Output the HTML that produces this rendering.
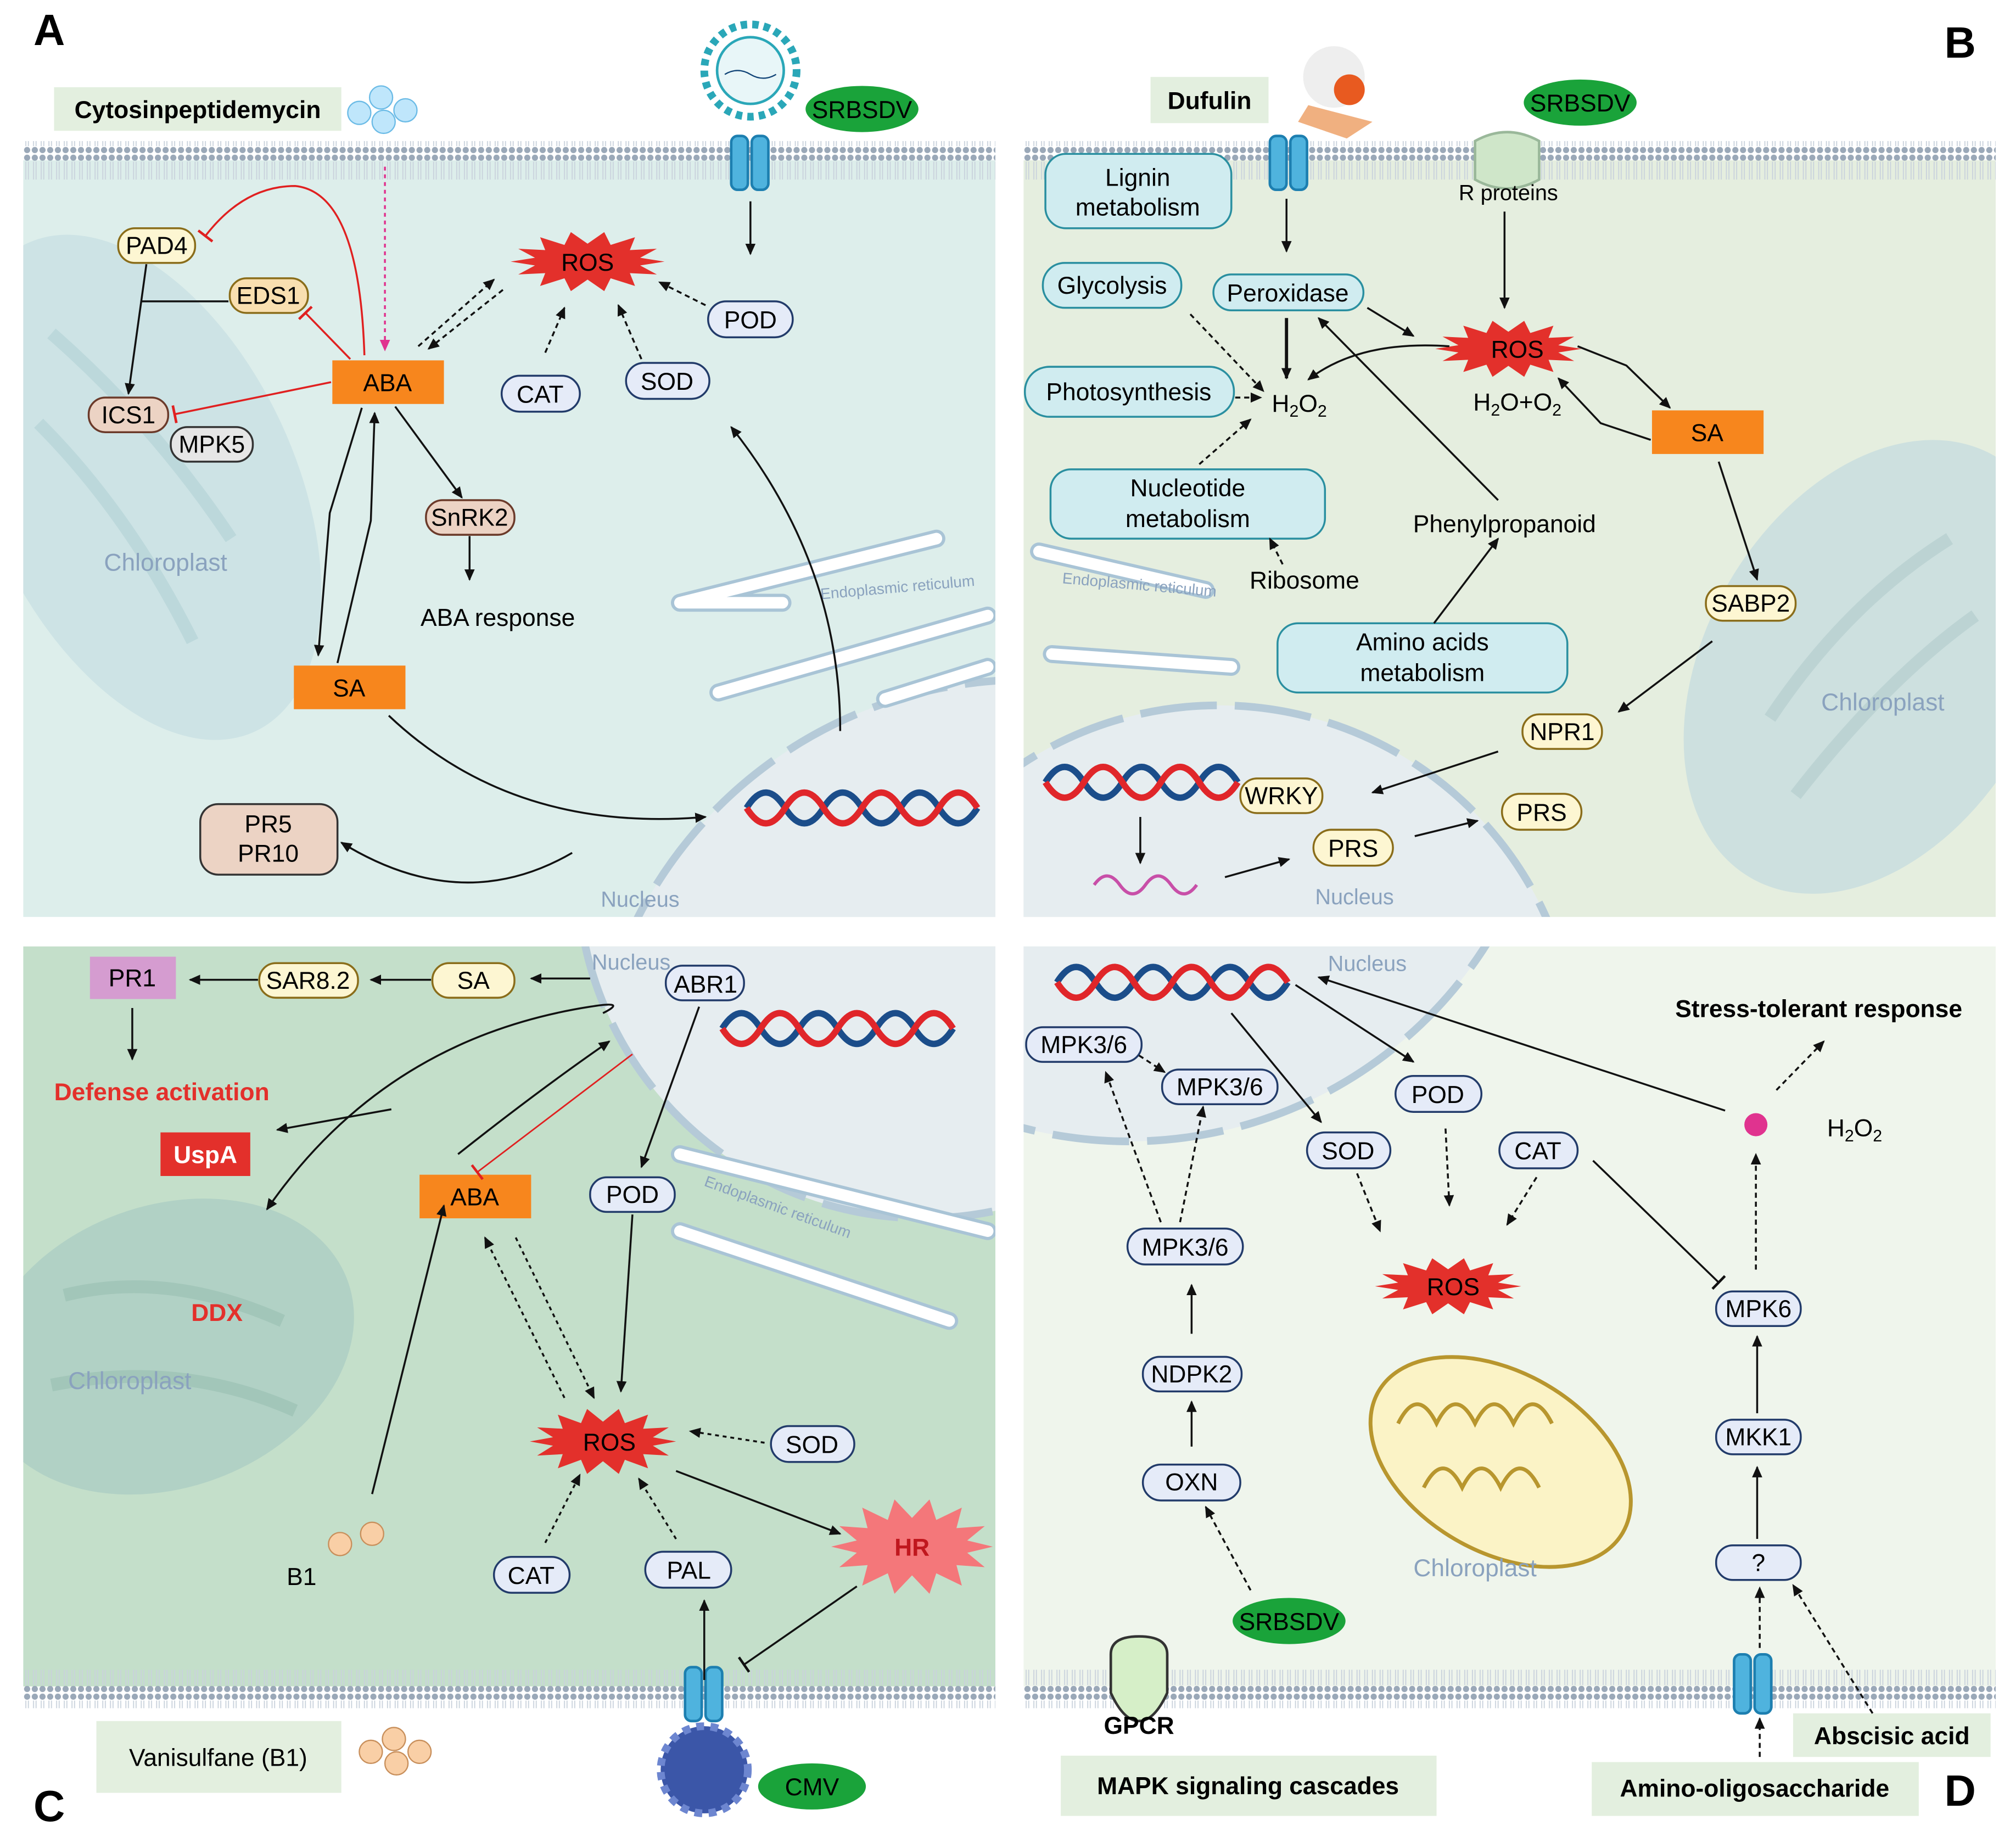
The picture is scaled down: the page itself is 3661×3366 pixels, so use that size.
<!DOCTYPE html>
<html><head><meta charset="utf-8"><style>html,body{margin:0;padding:0;background:#fff}svg{display:block}text{font-family:"Liberation Sans",sans-serif}</style></head><body>
<svg width="3661" height="3366" viewBox="0 0 1567 1441" xmlns="http://www.w3.org/2000/svg">
<defs>
<marker id="a" markerWidth="10" markerHeight="10" refX="8" refY="4" orient="auto" markerUnits="userSpaceOnUse"><path d="M0,0 L9,4 L0,8 z" fill="#111"/></marker>
<marker id="am" markerWidth="10" markerHeight="10" refX="8" refY="4" orient="auto" markerUnits="userSpaceOnUse"><path d="M0,0 L9,4 L0,8 z" fill="#e0338f"/></marker>
<marker id="t" markerWidth="4" markerHeight="14" refX="2" refY="7" orient="auto" markerUnits="userSpaceOnUse"><path d="M2,0 L2,14" stroke="#e02020" stroke-width="2"/></marker>
<marker id="tk" markerWidth="4" markerHeight="14" refX="2" refY="7" orient="auto" markerUnits="userSpaceOnUse"><path d="M2,0 L2,14" stroke="#111" stroke-width="2"/></marker>
<pattern id="mem" width="6" height="30" patternUnits="userSpaceOnUse"><circle cx="3" cy="3" r="2.4" fill="#9aa8b8"/><circle cx="3" cy="27" r="2.4" fill="#9aa8b8"/><path d="M2,6 V24 M4,6 V24" stroke="#c9d2dc" stroke-width="0.8"/></pattern>
<path id="star" d="M60,0 L41,3 L54,10 L33,9 L37,19 L18,13 L13,23 L0,14 L-13,23 L-18,13 L-37,19 L-33,9 L-54,10 L-41,3 L-60,0 L-41,-3 L-54,-10 L-33,-9 L-37,-19 L-18,-13 L-13,-23 L0,-14 L13,-23 L18,-13 L37,-19 L33,-9 L54,-10 L41,-3 z"/>
<clipPath id="cA"><rect x="18" y="125" width="758" height="590"/></clipPath>
<clipPath id="cB"><rect x="798" y="125" width="758" height="590"/></clipPath>
<clipPath id="cC"><rect x="18" y="738" width="758" height="577"/></clipPath>
<clipPath id="cD"><rect x="798" y="738" width="758" height="577"/></clipPath>
</defs>
<rect width="1567" height="1441" fill="#fff"/>
<rect x="18" y="125" width="758" height="590" fill="#ddeeeb"/>
<rect x="798" y="125" width="758" height="590" fill="#e5eedf"/>
<rect x="18" y="738" width="758" height="577" fill="#c4dfca"/>
<rect x="798" y="738" width="758" height="577" fill="#eff5ec"/>
<circle cx="800" cy="870" r="340" fill="#e6edf0" clip-path="url(#cA)"/>
<circle cx="800" cy="870" r="340" fill="none" stroke="#b5cad8" stroke-width="6" stroke-dasharray="60 14" clip-path="url(#cA)"/>
<circle cx="950" cy="830" r="280" fill="#e6edf0" stroke="#b5cad8" stroke-width="6" stroke-dasharray="60 14" clip-path="url(#cB)"/>
<circle cx="720" cy="680" r="270" fill="#e6edf0" stroke="#b5cad8" stroke-width="6" stroke-dasharray="60 14" clip-path="url(#cC)"/>
<circle cx="880" cy="560" r="330" fill="#e6edf0" stroke="#b5cad8" stroke-width="6" stroke-dasharray="60 14" clip-path="url(#cD)"/>
<g clip-path="url(#cA)"><ellipse cx="110" cy="380" rx="120" ry="210" transform="rotate(-25 110 380)" fill="#cde3e5"/><path d="M40,260 Q120,330 180,420 M30,330 Q100,400 150,500" stroke="#bcd8db" stroke-width="10" fill="none"/></g>
<g clip-path="url(#cB)"><ellipse cx="1460" cy="520" rx="130" ry="190" transform="rotate(30 1460 520)" fill="#cde0df"/><path d="M1380,560 Q1440,470 1520,420 M1400,620 Q1470,530 1540,480" stroke="#bcd3d3" stroke-width="10" fill="none"/></g>
<g clip-path="url(#cC)"><ellipse cx="130" cy="1050" rx="150" ry="110" transform="rotate(-20 130 1050)" fill="#b1d1c5"/><path d="M50,1010 Q130,990 220,1030 M40,1080 Q140,1060 230,1100" stroke="#a2c6b9" stroke-width="10" fill="none"/></g>
<ellipse cx="1170" cy="1140" rx="110" ry="70" transform="rotate(30 1170 1140)" fill="#fbf3c6" stroke="#b8962e" stroke-width="3"/>
<path d="M1090,1110 q15,-30 30,0 q15,-30 30,0 q15,-30 30,0 q15,-30 30,0 M1110,1160 q15,-30 30,0 q15,-30 30,0 q15,-30 30,0" stroke="#b8962e" stroke-width="3" fill="none"/>
<g fill="none" stroke="#a9c4d6" stroke-width="14" stroke-linecap="round">
<path d="M530,470 L730,420 M530,470 L610,470 M560,540 L770,480 M690,545 L770,520" clip-path="url(#cA)"/>
<path d="M810,430 L940,460 M820,510 L960,520" clip-path="url(#cB)"/>
<path d="M530,960 L740,1030 M530,900 L770,960" clip-path="url(#cC)"/>
</g>
<g fill="none" stroke="#fff" stroke-width="9" stroke-linecap="round">
<path d="M530,470 L730,420 M530,470 L610,470 M560,540 L770,480 M690,545 L770,520" clip-path="url(#cA)"/>
<path d="M810,430 L940,460 M820,510 L960,520" clip-path="url(#cB)"/>
<path d="M530,960 L740,1030 M530,900 L770,960" clip-path="url(#cC)"/>
</g>
<rect x="18" y="110" width="758" height="30" fill="url(#mem)"/>
<rect x="798" y="110" width="758" height="30" fill="url(#mem)"/>
<rect x="18" y="1302" width="758" height="30" fill="url(#mem)"/>
<rect x="798" y="1302" width="758" height="30" fill="url(#mem)"/>
<g fill="#4fb3de" stroke="#1d7fb0" stroke-width="2">
<rect x="570" y="106" width="13" height="42" rx="5"/><rect x="586" y="106" width="13" height="42" rx="5"/>
<rect x="990" y="106" width="13" height="42" rx="5"/><rect x="1006" y="106" width="13" height="42" rx="5"/>
<rect x="534" y="1300" width="13" height="42" rx="5"/><rect x="550" y="1300" width="13" height="42" rx="5"/>
<rect x="1352" y="1290" width="13" height="46" rx="5"/><rect x="1368" y="1290" width="13" height="46" rx="5"/>
</g>
<path d="M1150,110 q25,-14 50,0 v30 q-25,14 -50,0 z" fill="#cfe6c9" stroke="#9ab89a" stroke-width="2"/>
<path d="M866,1320 v-30 q0,-14 22,-14 q22,0 22,14 v30 q-10,22 -22,22 q-12,0 -22,-22z" fill="#d6efc8" stroke="#333" stroke-width="2"/>
<circle cx="585" cy="55" r="36" fill="#fff" stroke="#2aa7b8" stroke-width="6" stroke-dasharray="5 4"/><circle cx="585" cy="55" r="26" fill="#e8f6f8" stroke="#2aa7b8" stroke-width="2"/><path d="M565,58 q10,-6 20,0 t20,0" stroke="#147" fill="none"/>
<circle cx="549" cy="1380" r="34" fill="#3b56a8"/><circle cx="549" cy="1380" r="34" fill="none" stroke="#6d86d0" stroke-width="6" stroke-dasharray="6 5"/>
<circle cx="1040" cy="60" r="24" fill="#eee"/><circle cx="1052" cy="70" r="12" fill="#e85a20"/><path d="M1020,82 L1070,95 L1050,108 L1012,95z" fill="#f0b080"/>
<g fill="#bfe6fb" stroke="#6bbbe6"><circle cx="280" cy="88" r="9"/><circle cx="297" cy="76" r="9"/><circle cx="299" cy="95" r="9"/><circle cx="316" cy="86" r="9"/></g>
<g fill="#f9cfa6" stroke="#c88f5b"><circle cx="289" cy="1366" r="9"/><circle cx="307" cy="1356" r="9"/><circle cx="309" cy="1375" r="9"/><circle cx="327" cy="1366" r="9"/><circle cx="265" cy="1204" r="9"/><circle cx="290" cy="1196" r="9"/></g>
<g fill="none" stroke-width="5">
<path d="M582,630 q15,-24 30,0 t30,0 t30,0 t30,0 t30,0 t30,0" stroke="#1b4d8a"/><path d="M582,630 q15,24 30,0 t30,0 t30,0 t30,0 t30,0 t30,0" stroke="#e0262a"/>
<path d="M815,610 q15,-24 30,0 t30,0 t30,0 t30,0 t30,0" stroke="#1b4d8a"/><path d="M815,610 q15,24 30,0 t30,0 t30,0 t30,0 t30,0" stroke="#e0262a"/>
<path d="M563,802 q15,-24 30,0 t30,0 t30,0 t30,0 t30,0 t30,0" stroke="#1b4d8a"/><path d="M563,802 q15,24 30,0 t30,0 t30,0 t30,0 t30,0 t30,0" stroke="#e0262a"/>
<path d="M824,766 q15,-24 30,0 t30,0 t30,0 t30,0 t30,0 t30,0" stroke="#1b4d8a"/><path d="M824,766 q15,24 30,0 t30,0 t30,0 t30,0 t30,0 t30,0" stroke="#e0262a"/>
<path d="M853,690 q10,-14 20,0 t20,0 t20,0 t20,0" stroke="#c84fa8" stroke-width="2.5"/>
</g>
<use href="#star" transform="translate(458,204)" fill="#e3302b"/>
<use href="#star" transform="translate(1176,272) scale(0.95)" fill="#e3302b"/>
<use href="#star" transform="translate(470,1124) scale(0.95,1.1)" fill="#e3302b"/>
<use href="#star" transform="translate(1129,1003) scale(0.95)" fill="#e3302b"/>
<use href="#star" transform="translate(711,1206) scale(1.05,1.6)" fill="#f4777a"/>
<g font-size="19">
<rect x="42" y="68" width="224" height="34" fill="#e3efdf"/><text x="154" y="92" text-anchor="middle" font-weight="bold">Cytosinpeptidemycin</text>
<rect x="897" y="60" width="92" height="36" fill="#e3efdf"/><text x="943" y="85" text-anchor="middle" font-weight="bold">Dufulin</text>
<rect x="75" y="1342" width="191" height="56" fill="#e3efdf"/><text x="170" y="1377" text-anchor="middle">Vanisulfane (B1)</text>
<rect x="827" y="1369" width="293" height="47" fill="#e3efdf"/><text x="973" y="1399" text-anchor="middle" font-weight="bold">MAPK signaling cascades</text>
<rect x="1398" y="1336" width="154" height="34" fill="#e3efdf"/><text x="1475" y="1360" text-anchor="middle" font-weight="bold">Abscisic acid</text>
<rect x="1241" y="1374" width="255" height="42" fill="#e3efdf"/><text x="1368" y="1401" text-anchor="middle" font-weight="bold">Amino-oligosaccharide</text>
<ellipse cx="672" cy="85" rx="44" ry="18" fill="#1aa33a"/><text x="672" y="92" text-anchor="middle">SRBSDV</text>
<ellipse cx="1232" cy="80" rx="44" ry="18" fill="#1aa33a"/><text x="1232" y="87" text-anchor="middle">SRBSDV</text>
<ellipse cx="1005" cy="1264" rx="44" ry="18" fill="#1aa33a"/><text x="1005" y="1271" text-anchor="middle">SRBSDV</text>
<ellipse cx="633" cy="1393" rx="42" ry="18" fill="#1aa33a"/><text x="633" y="1400" text-anchor="middle">CMV</text>
<g fill="#f7861d"><rect x="259" y="281" width="87" height="34"/><rect x="229" y="519" width="87" height="34"/><rect x="1288" y="320" width="87" height="34"/><rect x="327" y="916" width="87" height="34"/></g>
<text x="302" y="305" text-anchor="middle">ABA</text><text x="272" y="543" text-anchor="middle">SA</text><text x="1331" y="344" text-anchor="middle">SA</text><text x="370" y="940" text-anchor="middle">ABA</text>
<rect x="70" y="746" width="67" height="33" fill="#d59cd0"/><text x="103" y="769" text-anchor="middle">PR1</text>
<rect x="125" y="883" width="70" height="34" fill="#e3302b"/><text x="160" y="907" text-anchor="middle" fill="#fff" font-weight="bold">UspA</text>
<g stroke-width="1.5">
<rect x="92" y="178" width="60" height="27" rx="13" fill="#fdf6d2" stroke="#8a6d1a"/>
<rect x="179" y="217" width="61" height="27" rx="13" fill="#f9dfb0" stroke="#8a6d1a"/>
<rect x="69" y="310" width="62" height="27" rx="13" fill="#ecd3c4" stroke="#6b3a2a"/>
<rect x="133" y="333" width="64" height="27" rx="13" fill="#e6e6e6" stroke="#333"/>
<rect x="332" y="390" width="69" height="27" rx="13" fill="#ecd3c4" stroke="#6b3a2a"/>
<rect x="156" y="627" width="107" height="55" rx="14" fill="#ecd3c4" stroke="#333"/>
<rect x="391" y="293" width="61" height="28" rx="14" fill="#e5ebf8" stroke="#223b6a"/>
<rect x="488" y="283" width="65" height="28" rx="14" fill="#e5ebf8" stroke="#223b6a"/>
<rect x="552" y="235" width="66" height="28" rx="14" fill="#e5ebf8" stroke="#223b6a"/>
<rect x="815" y="120" width="145" height="58" rx="16" fill="#d0ecf0" stroke="#2a8fa0"/>
<rect x="813" y="205" width="108" height="35" rx="17" fill="#d0ecf0" stroke="#2a8fa0"/>
<rect x="946" y="214" width="117" height="28" rx="14" fill="#d0ecf0" stroke="#2a8fa0"/>
<rect x="799" y="286" width="163" height="39" rx="19" fill="#d0ecf0" stroke="#2a8fa0"/>
<rect x="819" y="366" width="214" height="54" rx="16" fill="#d0ecf0" stroke="#2a8fa0"/>
<rect x="996" y="486" width="226" height="54" rx="16" fill="#d0ecf0" stroke="#2a8fa0"/>
<rect x="1330" y="457" width="70" height="27" rx="13" fill="#fdf6d2" stroke="#8a6d1a"/>
<rect x="1187" y="557" width="62" height="27" rx="13" fill="#fdf6d2" stroke="#8a6d1a"/>
<rect x="967" y="607" width="64" height="27" rx="13" fill="#fdf6d2" stroke="#8a6d1a"/>
<rect x="1024" y="647" width="62" height="28" rx="14" fill="#fdf6d2" stroke="#8a6d1a"/>
<rect x="1171" y="619" width="62" height="28" rx="14" fill="#fdf6d2" stroke="#8a6d1a"/>
<rect x="202" y="751" width="77" height="27" rx="13" fill="#fdf6d2" stroke="#8a6d1a"/>
<rect x="337" y="751" width="64" height="27" rx="13" fill="#fdf6d2" stroke="#8a6d1a"/>
<rect x="519" y="753" width="61" height="27" rx="13" fill="#e5ebf8" stroke="#223b6a"/>
<rect x="460" y="918" width="66" height="27" rx="13" fill="#e5ebf8" stroke="#223b6a"/>
<rect x="601" y="1112" width="65" height="28" rx="14" fill="#e5ebf8" stroke="#223b6a"/>
<rect x="385" y="1214" width="59" height="28" rx="14" fill="#e5ebf8" stroke="#223b6a"/>
<rect x="503" y="1210" width="67" height="28" rx="14" fill="#e5ebf8" stroke="#223b6a"/>
<rect x="800" y="801" width="90" height="27" rx="13" fill="#e5ebf8" stroke="#223b6a"/>
<rect x="906" y="834" width="90" height="27" rx="13" fill="#e5ebf8" stroke="#223b6a"/>
<rect x="879" y="958" width="90" height="28" rx="14" fill="#e5ebf8" stroke="#223b6a"/>
<rect x="1088" y="839" width="67" height="28" rx="14" fill="#e5ebf8" stroke="#223b6a"/>
<rect x="1019" y="883" width="65" height="28" rx="14" fill="#e5ebf8" stroke="#223b6a"/>
<rect x="1169" y="883" width="61" height="28" rx="14" fill="#e5ebf8" stroke="#223b6a"/>
<rect x="1338" y="1007" width="66" height="27" rx="13" fill="#e5ebf8" stroke="#223b6a"/>
<rect x="1338" y="1107" width="66" height="27" rx="13" fill="#e5ebf8" stroke="#223b6a"/>
<rect x="1338" y="1205" width="66" height="27" rx="13" fill="#e5ebf8" stroke="#223b6a"/>
<rect x="891" y="1058" width="77" height="27" rx="13" fill="#e5ebf8" stroke="#223b6a"/>
<rect x="891" y="1142" width="76" height="28" rx="14" fill="#e5ebf8" stroke="#223b6a"/>
</g>
<circle cx="1369" cy="877" r="9" fill="#e0338f"/>
<text x="122" y="198" text-anchor="middle">PAD4</text><text x="209" y="237" text-anchor="middle">EDS1</text>
<text x="100" y="330" text-anchor="middle">ICS1</text><text x="165" y="353" text-anchor="middle">MPK5</text>
<text x="366" y="410" text-anchor="middle">SnRK2</text><text x="388" y="488" text-anchor="middle">ABA response</text>
<text x="209" y="649" text-anchor="middle">PR5</text><text x="209" y="672" text-anchor="middle">PR10</text>
<text x="458" y="211" text-anchor="middle">ROS</text><text x="421" y="314" text-anchor="middle">CAT</text><text x="520" y="304" text-anchor="middle">SOD</text><text x="585" y="256" text-anchor="middle">POD</text>
<text x="887" y="145" text-anchor="middle">Lignin</text><text x="887" y="168" text-anchor="middle">metabolism</text>
<text x="867" y="229" text-anchor="middle">Glycolysis</text><text x="1004" y="235" text-anchor="middle">Peroxidase</text>
<text x="880" y="312" text-anchor="middle">Photosynthesis</text>
<text x="1013" y="321" text-anchor="middle">H<tspan font-size="13" dy="4">2</tspan><tspan dy="-4">O</tspan><tspan font-size="13" dy="4">2</tspan></text>
<text x="1183" y="320" text-anchor="middle">H<tspan font-size="13" dy="4">2</tspan><tspan dy="-4">O+O</tspan><tspan font-size="13" dy="4">2</tspan></text>
<text x="1183" y="279" text-anchor="middle">ROS</text>
<text x="1176" y="156" text-anchor="middle" font-size="17">R  proteins</text>
<text x="926" y="387" text-anchor="middle">Nucleotide</text><text x="926" y="411" text-anchor="middle">metabolism</text>
<text x="1173" y="415" text-anchor="middle">Phenylpropanoid</text><text x="1017" y="459" text-anchor="middle">Ribosome</text>
<text x="1109" y="507" text-anchor="middle">Amino acids</text><text x="1109" y="531" text-anchor="middle">metabolism</text>
<text x="1365" y="477" text-anchor="middle">SABP2</text><text x="1218" y="577" text-anchor="middle">NPR1</text><text x="999" y="627" text-anchor="middle">WRKY</text>
<text x="1055" y="668" text-anchor="middle">PRS</text><text x="1202" y="640" text-anchor="middle">PRS</text>
<text x="103" y="769" text-anchor="middle">PR1</text><text x="240" y="771" text-anchor="middle">SAR8.2</text><text x="369" y="771" text-anchor="middle">SA</text><text x="550" y="774" text-anchor="middle">ABR1</text>
<text x="126" y="858" text-anchor="middle" fill="#e3302b" font-weight="bold">Defense activation</text>
<text x="169" y="1030" text-anchor="middle" fill="#e3302b" font-weight="bold">DDX</text>
<text x="493" y="938" text-anchor="middle">POD</text><text x="475" y="1131" text-anchor="middle">ROS</text><text x="633" y="1133" text-anchor="middle">SOD</text>
<text x="414" y="1235" text-anchor="middle">CAT</text><text x="537" y="1231" text-anchor="middle">PAL</text><text x="711" y="1213" text-anchor="middle" font-weight="bold" fill="#c0171e">HR</text>
<text x="235" y="1236" text-anchor="middle">B1</text>
<text x="845" y="821" text-anchor="middle">MPK3/6</text><text x="951" y="854" text-anchor="middle">MPK3/6</text><text x="924" y="979" text-anchor="middle">MPK3/6</text>
<text x="1121" y="860" text-anchor="middle">POD</text><text x="1051" y="904" text-anchor="middle">SOD</text><text x="1199" y="904" text-anchor="middle">CAT</text>
<text x="1418" y="793" text-anchor="middle" font-weight="bold">Stress-tolerant response</text>
<text x="1446" y="886" text-anchor="middle">H<tspan font-size="13" dy="4">2</tspan><tspan dy="-4">O</tspan><tspan font-size="13" dy="4">2</tspan></text>
<text x="1133" y="1010" text-anchor="middle">ROS</text>
<text x="1371" y="1027" text-anchor="middle">MPK6</text><text x="1371" y="1127" text-anchor="middle">MKK1</text><text x="1371" y="1225" text-anchor="middle">?</text>
<text x="929" y="1078" text-anchor="middle">NDPK2</text><text x="929" y="1162" text-anchor="middle">OXN</text>
<text x="888" y="1352" text-anchor="middle" font-weight="bold">GPCR</text>
</g>
<g fill="#8aa2be" font-size="19">
<text x="129" y="445" text-anchor="middle">Chloroplast</text><text x="499" y="707" text-anchor="middle" font-size="17">Nucleus</text>
<text x="1468" y="554" text-anchor="middle">Chloroplast</text><text x="1056" y="705" text-anchor="middle" font-size="17">Nucleus</text>
<text x="101" y="1083" text-anchor="middle">Chloroplast</text><text x="492" y="756" text-anchor="middle" font-size="17">Nucleus</text>
<text x="1150" y="1229" text-anchor="middle">Chloroplast</text><text x="1066" y="757" text-anchor="middle" font-size="17">Nucleus</text>
<text x="700" y="462" text-anchor="middle" font-size="12" transform="rotate(-5 700 462)">Endoplasmic reticulum</text>
<text x="888" y="460" text-anchor="middle" font-size="12" transform="rotate(5 888 460)">Endoplasmic reticulum</text>
<text x="605" y="945" text-anchor="middle" font-size="12" transform="rotate(20 605 945)">Endoplasmic reticulum</text>
</g>
<g font-size="34" font-weight="bold"><text x="26" y="35">A</text><text x="1516" y="45">B</text><text x="26" y="1420">C</text><text x="1516" y="1408">D</text></g>
<g fill="none" stroke="#111" stroke-width="1.5">
<path d="M585,157 V198" marker-end="url(#a)"/>
<path d="M114,206 L100,307" marker-end="url(#a)"/><path d="M110,235 H178"/>
<path d="M282,318 L257,400 L248,511" marker-end="url(#a)"/><path d="M263,517 L289,406 L292,322" marker-end="url(#a)"/>
<path d="M308,317 L360,388" marker-end="url(#a)"/><path d="M366,418 V452" marker-end="url(#a)"/>
<path d="M303,558 Q400,650 550,637" marker-end="url(#a)"/>
<path d="M446,665 Q360,715 266,657" marker-end="url(#a)"/>
<path d="M655,570 Q655,440 570,333" marker-end="url(#a)"/>
<g stroke-dasharray="4 3"><path d="M326,270 L385,218" marker-end="url(#a)"/><path d="M392,226 L334,272" marker-end="url(#a)"/>
<path d="M425,275 L440,240" marker-end="url(#a)"/><path d="M500,280 L482,238" marker-end="url(#a)"/><path d="M550,238 L514,220" marker-end="url(#a)"/></g>
</g>
<g fill="none" stroke="#e02020" stroke-width="1.5">
<path d="M284,277 Q280,150 230,145 Q190,145 160,184" marker-end="url(#t)"/>
<path d="M273,280 L238,244" marker-end="url(#t)"/>
<path d="M258,298 L136,323" marker-end="url(#t)"/>
</g>
<path d="M300,130 V273" stroke="#e0338f" stroke-width="1.5" stroke-dasharray="3 3" marker-end="url(#am)"/>
<g fill="none" stroke="#111" stroke-width="1.5">
<path d="M1003,155 V196" marker-end="url(#a)"/><path d="M1173,165 V240" marker-end="url(#a)"/>
<path d="M1003,248 V295" stroke-width="2.5" marker-end="url(#a)"/>
<path d="M1066,240 L1102,262" marker-end="url(#a)"/>
<path d="M1130,270 Q1060,265 1020,296" marker-end="url(#a)"/>
<path d="M1230,270 L1268,285 L1302,318" marker-end="url(#a)"/>
<path d="M1287,343 L1248,330 L1215,295" marker-end="url(#a)"/>
<path d="M1168,390 L1028,248" marker-end="url(#a)"/>
<path d="M1118,486 L1168,420" marker-end="url(#a)"/>
<path d="M1340,360 L1370,452" marker-end="url(#a)"/>
<path d="M1335,500 L1262,555" marker-end="url(#a)"/>
<path d="M1168,586 L1070,618" marker-end="url(#a)"/>
<path d="M889,637 V673" marker-end="url(#a)"/>
<path d="M955,684 L1005,670" marker-end="url(#a)"/>
<path d="M1103,652 L1152,640" marker-end="url(#a)"/>
<g stroke-dasharray="4 3"><path d="M928,245 L985,305" marker-end="url(#a)"/><path d="M963,310 H983" marker-end="url(#a)"/><path d="M935,362 L975,327" marker-end="url(#a)"/><path d="M1000,440 L990,420" marker-end="url(#a)"/></g>
</g>
<g fill="none" stroke="#111" stroke-width="1.5">
<path d="M460,763 H414" marker-end="url(#a)"/><path d="M336,764 H289" marker-end="url(#a)"/><path d="M201,764 H148" marker-end="url(#a)"/>
<path d="M103,786 V826" marker-end="url(#a)"/>
<path d="M470,790 Q490,780 460,785 Q300,810 208,943" marker-end="url(#a)"/>
<path d="M305,865 L216,881" marker-end="url(#a)"/>
<path d="M357,900 Q420,850 475,812" marker-end="url(#a)"/>
<path d="M545,785 L500,910" marker-end="url(#a)"/>
<path d="M493,947 L484,1085" marker-end="url(#a)"/>
<path d="M290,1165 L346,940" marker-end="url(#a)"/>
<path d="M527,1147 L655,1196" marker-end="url(#a)"/>
<path d="M549,1310 V1248" marker-end="url(#a)"/>
<path d="M668,1237 L580,1298" marker-end="url(#tk)"/>
<g stroke-dasharray="3 3"><path d="M440,1090 L378,965" marker-end="url(#a)"/><path d="M402,965 L463,1090" marker-end="url(#a)"/>
<path d="M596,1125 L538,1116" marker-end="url(#a)"/><path d="M425,1203 L452,1150" marker-end="url(#a)"/><path d="M527,1200 L498,1153" marker-end="url(#a)"/></g>
</g>
<path d="M493,822 L372,914" stroke="#e02020" stroke-width="1.2" fill="none" marker-end="url(#t)"/>
<g fill="none" stroke="#111" stroke-width="1.5">
<path d="M1010,768 L1102,828" marker-end="url(#a)"/><path d="M960,790 L1030,875" marker-end="url(#a)"/>
<path d="M1345,866 L1028,762" marker-end="url(#a)"/>
<path d="M929,1040 V1002" marker-end="url(#a)"/><path d="M929,1128 V1093" marker-end="url(#a)"/>
<path d="M1370,1102 V1042" marker-end="url(#a)"/><path d="M1370,1200 V1144" marker-end="url(#a)"/>
<path d="M1242,905 L1340,1000" marker-end="url(#tk)"/>
<g stroke-dasharray="4 3"><path d="M905,953 L862,836" marker-end="url(#a)"/><path d="M920,953 L938,863" marker-end="url(#a)"/><path d="M888,823 L908,836" marker-end="url(#a)"/>
<path d="M1058,915 L1076,960" marker-end="url(#a)"/><path d="M1127,880 L1130,940" marker-end="url(#a)"/><path d="M1198,918 L1175,955" marker-end="url(#a)"/>
<path d="M1369,990 L1369,900" marker-end="url(#a)"/><path d="M1385,850 L1422,812" marker-end="url(#a)"/>
<path d="M975,1240 L940,1175" marker-end="url(#a)"/>
<path d="M1372,1370 V1340" marker-end="url(#a)"/><path d="M1372,1285 V1238" marker-end="url(#a)"/>
<path d="M1460,1336 L1398,1236" marker-end="url(#a)"/></g>
</g>
</svg>
</body></html>
